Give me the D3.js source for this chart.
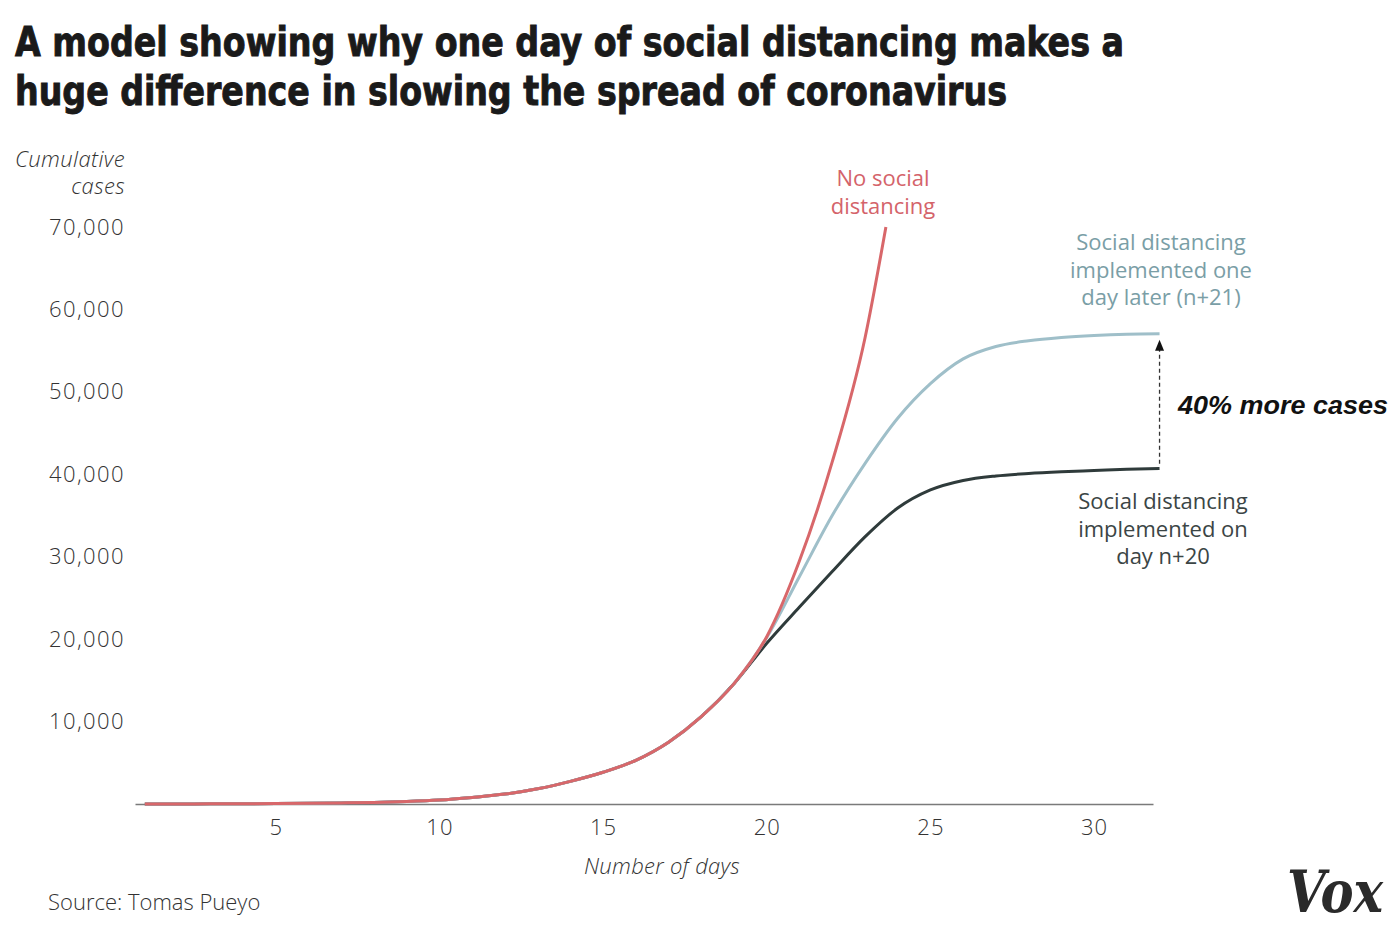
<!DOCTYPE html>
<html>
<head>
<meta charset="utf-8">
<script src="https://cdn.jsdelivr.net/npm/d3@7"></script>
<style>
  html, body { margin: 0; padding: 0; background: #fff; }
  svg { display: block; }
</style>
</head>
<body>
<svg id="chart" width="1400" height="932" font-family="'Open Sans', Lato, sans-serif"></svg>
<script>
// ---------- DATA ----------
const titleLines = [
  "A model showing why one day of social distancing makes a",
  "huge difference in slowing the spread of coronavirus"
];
const yTitle = ["Cumulative", "cases"];
const xTitle = "Number of days";
const source = "Source: Tomas Pueyo";
const yTicks = [10000, 20000, 30000, 40000, 50000, 60000, 70000];
const xTicks = [5, 10, 15, 20, 25, 30];

// shared early trajectory (days 1..19)
const commonDays   = [1, 2, 3, 4, 5, 6, 7, 8, 9, 10, 11, 12, 13, 14, 15, 16, 17, 18, 19];
const commonValues = [0, 10, 20, 35, 55, 85, 130, 190, 300, 480, 800, 1200, 1850, 2750, 3850, 5300, 7500, 10600, 14600];

const redDays    = [20, 21, 22, 23, 23.64];
const redValues  = [20300, 29500, 41500, 56500, 70000];

const blueDays   = [20, 21, 22, 23, 24, 25, 26, 27, 28, 29, 30, 31, 32];
const blueValues = [20200, 27600, 35000, 41300, 46800, 51000, 54000, 55500, 56200, 56600, 56850, 57000, 57050];

const darkDays   = [20, 21, 22, 23, 24, 25, 26, 27, 28, 29, 30, 31, 32];
const darkValues = [19500, 23900, 28200, 32400, 35900, 38100, 39250, 39800, 40100, 40300, 40450, 40600, 40700];

const labels = {
  red:  ["No social", "distancing"],
  blue: ["Social distancing", "implemented one", "day later (n+21)"],
  dark: ["Social distancing", "implemented on", "day n+20"],
  diff: "40% more cases"
};

const colors = { red: "#d8676a", blue: "#9fbfc9", dark: "#2f3b3b",
                 redText: "#d4636a", blueText: "#7a9ea6", darkText: "#3b4545" };

// ---------- BUILD ----------
const svg = d3.select("#chart");
const x = d3.scaleLinear().domain([0.7, 31.8]).range([135, 1153]);
const y = d3.scaleLinear().domain([0, 70000]).range([804, 227]);

function series(days, vals) {
  const pts = commonDays.map((d, i) => [d, commonValues[i]]);
  days.forEach((d, i) => pts.push([d, vals[i]]));
  return pts;
}
const line = d3.line().x(d => x(d[0])).y(d => y(d[1])).curve(d3.curveMonotoneX);

// Title (single text element, two tspans)
const title = svg.append("text")
  .style("font-family", "'DejaVu Sans Condensed', 'DejaVu Sans', sans-serif")
  .style("font-stretch", "condensed")
  .style("font-weight", 700)
  .style("font-size", "40px")
  .attr("fill", "#1a1a1a")
  .attr("stroke", "#1a1a1a")
  .attr("stroke-width", 0.9);
titleLines.forEach((t, i) => {
  title.append("tspan")
    .attr("x", 15).attr("y", 56 + i * 49)
    .attr("textLength", i === 0 ? 1109 : 992)
    .attr("lengthAdjust", "spacingAndGlyphs")
    .text(t);
});

// Y axis title
const yt = svg.append("text")
  .attr("text-anchor", "end")
  .style("font-family", "'Open Sans', sans-serif")
  .style("font-style", "italic")
  .style("font-weight", 300)
  .style("font-size", "22px")
  .attr("letter-spacing", 0.4)
  .attr("fill", "#333");
yTitle.forEach((t, i) => {
  yt.append("tspan").attr("x", 125).attr("y", 167 + i * 27).text(t);
});

// Y axis (labels only)
const yAxis = d3.axisLeft(y).tickValues(yTicks).tickSize(0).tickPadding(0)
  .tickFormat(d3.format(","));
const gy = svg.append("g").attr("transform", "translate(125,0)").call(yAxis);
gy.select(".domain").remove();
gy.selectAll("text").style("font-family", "'Open Sans', sans-serif").style("font-size", "22px")
  .style("font-weight", 300).attr("letter-spacing", 1.4).attr("fill", "#333");

// X axis
const xAxis = d3.axisBottom(x).tickValues(xTicks).tickSize(0).tickPadding(15);
const gx = svg.append("g").attr("transform", "translate(0,804)").call(xAxis);
gx.select(".domain").attr("stroke", "#7a7a7a").attr("stroke-width", 1.6);
gx.selectAll("text").style("font-family", "'Open Sans', sans-serif").style("font-size", "22px")
  .style("font-weight", 300).attr("letter-spacing", 1).attr("fill", "#333");

svg.append("text")
  .attr("x", 662).attr("y", 874)
  .attr("text-anchor", "middle")
  .style("font-family", "'Open Sans', sans-serif")
  .style("font-style", "italic").style("font-weight", 300)
  .style("font-size", "22px").attr("letter-spacing", 0.3).attr("fill", "#333")
  .text(xTitle);

// Lines
svg.append("path").datum(series(darkDays, darkValues))
  .attr("d", line).attr("fill", "none").attr("stroke", colors.dark).attr("stroke-width", 3);
svg.append("path").datum(series(blueDays, blueValues))
  .attr("d", line).attr("fill", "none").attr("stroke", colors.blue).attr("stroke-width", 3);
svg.append("path").datum(series(redDays, redValues))
  .attr("d", line).attr("fill", "none").attr("stroke", colors.red).attr("stroke-width", 3);

// Dashed arrow between endpoints
const endDay = darkDays[darkDays.length - 1];
const ax = x(endDay);
const yTop = y(blueValues[blueValues.length - 1]) + 6;
const yBot = y(darkValues[darkValues.length - 1]) - 2;
svg.append("line")
  .attr("x1", ax).attr("x2", ax).attr("y1", yTop + 8).attr("y2", yBot)
  .attr("stroke", "#333").attr("stroke-width", 1.3).attr("stroke-dasharray", "4,3");
svg.append("path")
  .attr("d", `M${ax},${yTop} L${ax - 4.5},${yTop + 11} L${ax + 4.5},${yTop + 11} Z`)
  .attr("fill", "#111");

// Annotation labels
function block(lines, cx, y0, color) {
  const t = svg.append("text")
    .attr("text-anchor", "middle")
    .style("font-family", "'Open Sans', sans-serif")
    .style("font-size", "22px")
    .attr("fill", color);
  lines.forEach((s, i) => {
    t.append("tspan").attr("x", cx).attr("y", y0 + i * 27.5).text(s);
  });
}
block(labels.red, 883, 186, colors.redText);
block(labels.blue, 1161, 250, colors.blueText);
block(labels.dark, 1163, 509, colors.darkText);

svg.append("text")
  .attr("x", 1178).attr("y", 414)
  .style("font-family", "'Liberation Sans', Arial, sans-serif")
  .style("font-style", "italic").style("font-weight", 700)
  .style("font-size", "25px").attr("fill", "#111")
  .attr("textLength", 210).attr("lengthAdjust", "spacingAndGlyphs")
  .text(labels.diff);

// Source
svg.append("text")
  .attr("x", 48).attr("y", 910)
  .style("font-family", "'Open Sans', sans-serif")
  .style("font-size", "22px").style("font-weight", 300).attr("fill", "#333")
  .text(source);

// Vox logo (text)
svg.append("text")
  .attr("x", 1287).attr("y", 912)
  .style("font-family", "'DejaVu Serif Condensed', 'DejaVu Serif', serif")
  .style("font-stretch", "condensed")
  .style("font-style", "italic").style("font-weight", 700)
  .style("font-size", "58px").attr("fill", "#2a2a2a")
  .attr("textLength", 96).attr("lengthAdjust", "spacingAndGlyphs")
  .text("Vox");
</script>
</body>
</html>
